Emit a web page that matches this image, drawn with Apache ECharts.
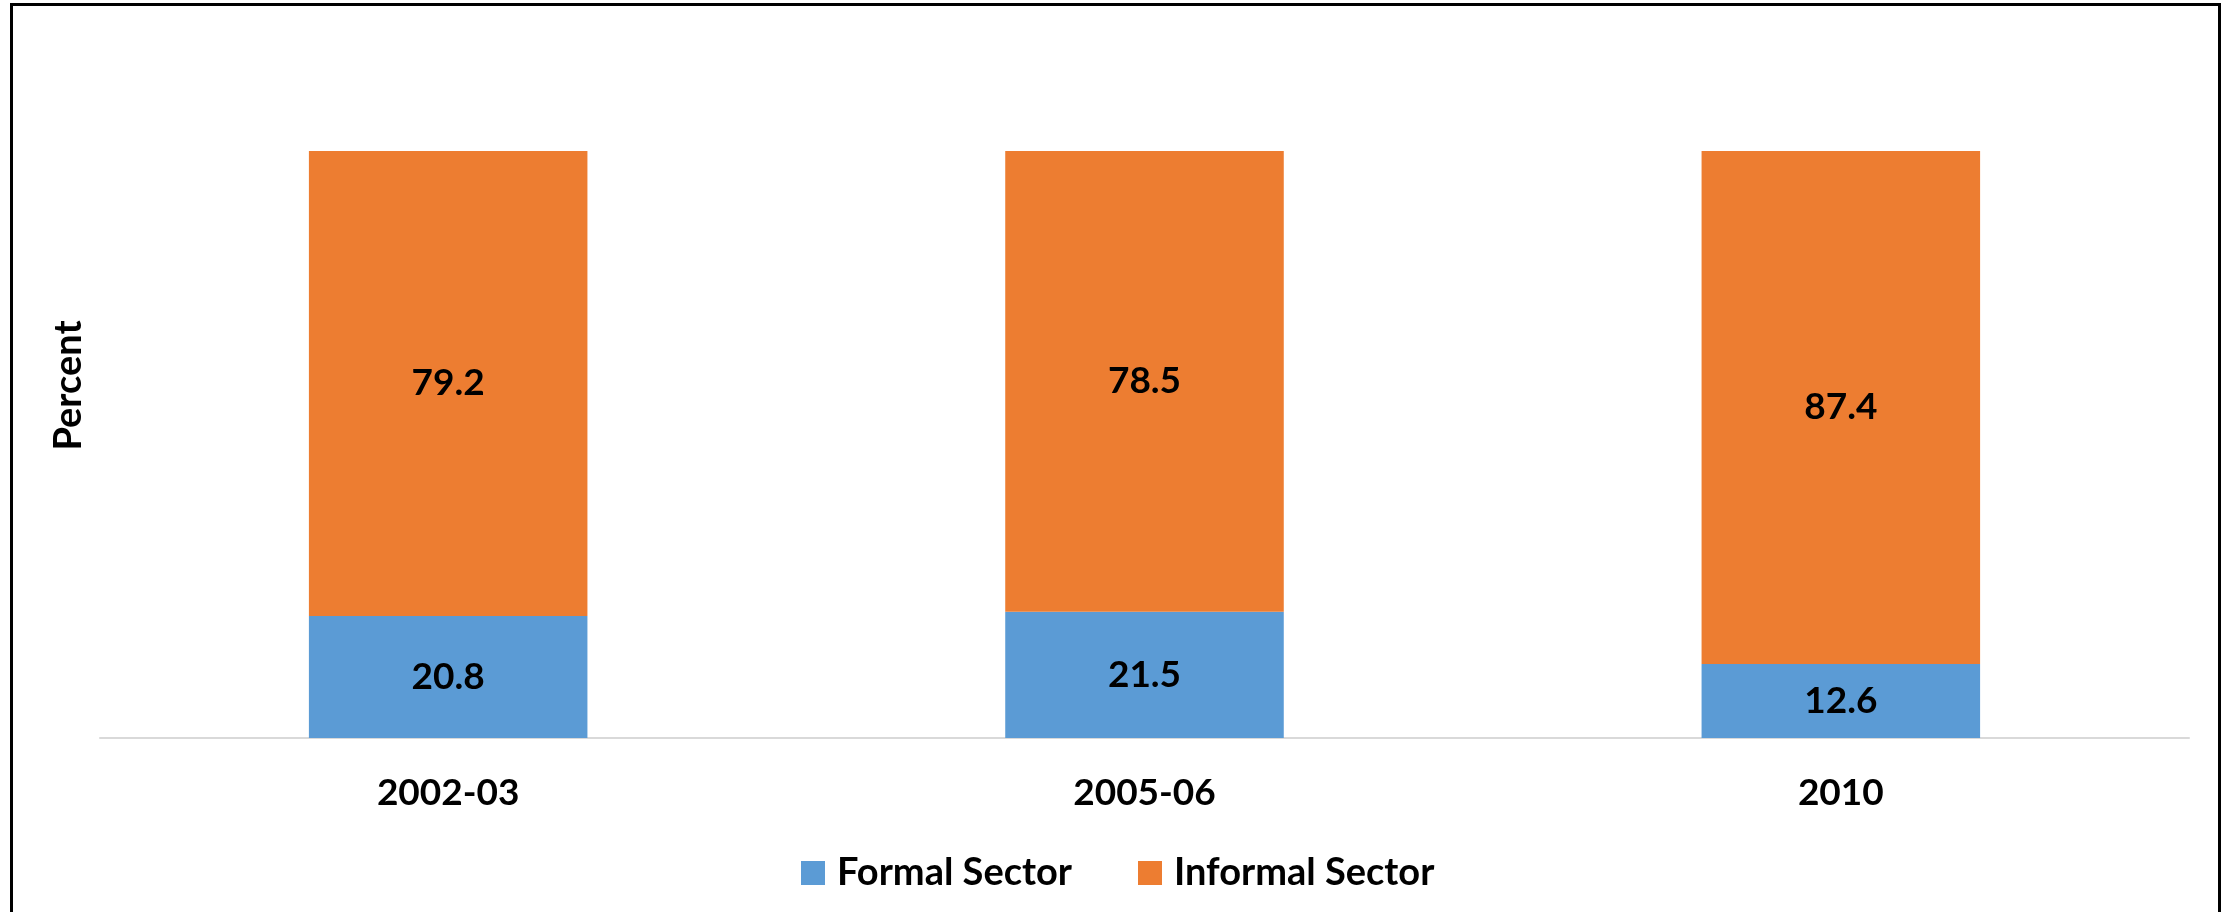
<!DOCTYPE html>
<html>
<head>
<meta charset="utf-8">
<style>
  html, body { margin: 0; padding: 0; background: #fff; }
  #chart { width: 2231px; height: 912px; }
</style>
<script src="https://cdn.jsdelivr.net/npm/echarts@6/dist/echarts.min.js"></script>
</head>
<body>
<div id="chart"></div>
<script>
// Share of employment by sector, percent
const categories = ['2002-03', '2005-06', '2010'];
const formalSector = [20.8, 21.5, 12.6];
const informalSector = [79.2, 78.5, 87.4];
const seriesNames = ['Formal Sector', 'Informal Sector'];

const FONT = 'Lato, "Open Sans", sans-serif';
const FONT_SIZE = 37;

const labelStyle = {
  show: true,
  position: 'inside',
  color: '#000',
  fontFamily: FONT,
  fontWeight: 'bold',
  fontSize: FONT_SIZE,
  formatter: p => p.value.toFixed(1)
};

const chart = echarts.init(document.getElementById('chart'));
chart.setOption({
  animation: false,
  backgroundColor: '#fff',
  grid: { left: 100, right: 42, top: 151, bottom: 174, containLabel: false },
  legend: {
    left: 796,
    top: 849,
    itemWidth: 24,
    itemHeight: 24,
    itemGap: 66,
    icon: 'rect',
    textStyle: {
      color: '#000',
      fontFamily: FONT,
      fontWeight: 'bold',
      fontSize: 38,
      padding: [0, 0, 0, 7]
    },
    data: seriesNames
  },
  xAxis: {
    type: 'category',
    data: categories,
    axisLine: { show: true, lineStyle: { color: '#d9d9d9', width: 2 } },
    axisTick: { show: false },
    axisLabel: { color: '#000', fontFamily: FONT, fontWeight: 'bold', fontSize: FONT_SIZE, margin: 37 }
  },
  yAxis: {
    type: 'value',
    min: 0,
    max: 100,
    name: 'Percent',
    nameLocation: 'middle',
    nameGap: 12,
    nameTextStyle: {
      color: '#000',
      fontFamily: FONT,
      fontWeight: 'bold',
      fontSize: 38,
      padding: [0, 0, 0, 118]
    },
    axisLine: { show: false },
    axisTick: { show: false },
    axisLabel: { show: false },
    splitLine: { show: false }
  },
  series: [
    {
      name: seriesNames[0],
      type: 'bar',
      stack: 'total',
      barWidth: '40%',
      itemStyle: { color: '#5B9BD5' },
      label: labelStyle,
      data: formalSector
    },
    {
      name: seriesNames[1],
      type: 'bar',
      stack: 'total',
      barWidth: '40%',
      itemStyle: { color: '#ED7D31' },
      label: labelStyle,
      data: informalSector
    }
  ],
  graphic: [
    {
      type: 'rect',
      silent: true,
      z: 100,
      shape: { x: 11.5, y: 4.5, width: 2208, height: 1000 },
      style: { fill: 'none', stroke: '#000', lineWidth: 3 }
    }
  ]
});
</script>
</body>
</html>
